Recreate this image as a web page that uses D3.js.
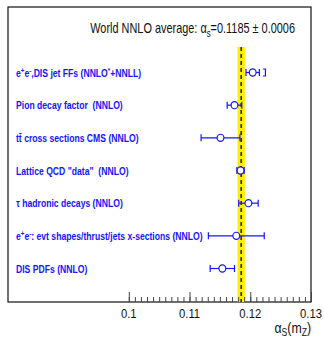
<!DOCTYPE html>
<html>
<head>
<meta charset="utf-8">
<script src="https://cdn.jsdelivr.net/npm/d3@7"></script>
<style>
  html, body { margin: 0; padding: 0; background: #fff; }
  svg { display: block; }
  text { font-family: "Liberation Sans", Arial, Helvetica, sans-serif; }
</style>
</head>
<body>
<svg id="chart" width="324" height="339"></svg>
<script>
// Determinations of the strong coupling, one row per method
const categories = [
  "ee_jetffs",
  "pion",
  "ttbar",
  "lattice",
  "tau",
  "ee_shapes",
  "dis"
];
const values = [0.1204, 0.1174, 0.1151, 0.1184, 0.1197, 0.1177, 0.1154];
const errors = [0.0011, 0.0012, 0.0032, 0.0006, 0.0016, 0.0046, 0.0020];
// extra one-sided theory uncertainty (upper edge), shown as a bracket
const theoryUpper = [0.1225, null, null, null, null, null, null];

const worldAverage = 0.1185;
const worldError = 0.0006;
const xTicks = [0.1, 0.11, 0.12, 0.13];
const xTickLabels = ["0.1", "0.11", "0.12", "0.13"];

const frame = { left: 8, top: 7, right: 311, bottom: 302 };
const blue = "#1414ff";

const svg = d3.select("#chart");

const x = d3.scaleLinear().domain([0.1, 0.13]).range([128.8, 311]);
const y = d3.scalePoint().domain(categories).range([72.5, 268.5]);

// frame
svg.append("rect")
  .attr("x", frame.left).attr("y", frame.top)
  .attr("width", frame.right - frame.left)
  .attr("height", frame.bottom - frame.top)
  .attr("fill", "none").attr("stroke", "#111").attr("stroke-width", 1.2);

// world average band and central line
const bandTop = 47;
svg.append("rect")
  .attr("x", x(worldAverage - worldError))
  .attr("y", bandTop)
  .attr("width", x(worldAverage + worldError) - x(worldAverage - worldError))
  .attr("height", frame.bottom - bandTop)
  .attr("fill", "#ffee00");
svg.append("line")
  .attr("x1", x(worldAverage)).attr("x2", x(worldAverage))
  .attr("y1", bandTop).attr("y2", frame.bottom)
  .attr("stroke", "#000").attr("stroke-width", 1.3)
  .attr("stroke-dasharray", "4,3");

// bottom axis: minor ticks every 0.001, major ticks at the labelled values
const minorTicks = d3.range(0, 31).map(i => 0.1 + i * 0.001);
const minorAxis = d3.axisBottom(x).tickValues(minorTicks).tickSize(-5).tickFormat("");
const gMinor = svg.append("g").attr("transform", `translate(0,${frame.bottom})`).call(minorAxis);
gMinor.select(".domain").remove();
gMinor.selectAll("line").attr("stroke", "#444").attr("stroke-width", 1);

const majorAxis = d3.axisBottom(x).tickValues(xTicks).tickSize(-10).tickFormat("");
const gMajor = svg.append("g").attr("transform", `translate(0,${frame.bottom})`).call(majorAxis);
gMajor.select(".domain").remove();
gMajor.selectAll("line").attr("stroke", "#444").attr("stroke-width", 1);

// tick labels, slightly condensed
const tickLabelG = svg.append("g");
xTicks.forEach((v, i) => {
  tickLabelG.append("text")
    .attr("transform", `translate(${x(v)},317.5) scale(0.88,1)`)
    .attr("text-anchor", "middle")
    .attr("font-size", 12.8)
    .attr("fill", "#111")
    .text(xTickLabels[i]);
});

// axis title  α_S(m_Z)
const axTitle = svg.append("text")
  .attr("transform", "translate(311,333) scale(0.82,1)")
  .attr("text-anchor", "end")
  .attr("font-size", 15)
  .attr("fill", "#111");
axTitle.append("tspan").text("\u03b1");
axTitle.append("tspan").attr("font-size", 10.5).attr("dy", 2.5).text("S");
axTitle.append("tspan").attr("dy", -2.5).text("(m");
axTitle.append("tspan").attr("font-size", 10.5).attr("dy", 2.5).text("Z");
axTitle.append("tspan").attr("dy", -2.5).text(")");

// header
const title = svg.append("text")
  .attr("transform", "translate(295,33) scale(0.78,1)")
  .attr("text-anchor", "end")
  .attr("font-size", 14)
  .attr("fill", "#111");
title.append("tspan").text("World NNLO average: \u03b1");
title.append("tspan").attr("font-size", 10).attr("dy", 3.5).text("s");
title.append("tspan").attr("dy", -3.5).text("=0.1185 \u00b1 0.0006");

// row labels (with superscripts)
const labelParts = {
  ee_jetffs: [["e"], ["+", "sup"], ["e"], ["-", "sup"], [",DIS jet FFs (NNLO"], ["*", "sup"], ["+NNLL)"]],
  pion: [["Pion decay factor\u00a0 (NNLO)"]],
  ttbar: [["tt\u0304 cross sections CMS (NNLO)"]],
  lattice: [["Lattice QCD \"data\"\u00a0 (NNLO)"]],
  tau: [["\u03c4 hadronic decays (NNLO)"]],
  ee_shapes: [["e"], ["+", "sup"], ["e"], ["-", "sup"], [": evt shapes/thrust/jets x-sections (NNLO)"]],
  dis: [["DIS PDFs (NNLO)"]]
};

categories.forEach(c => {
  const t = svg.append("text")
    .attr("transform", `translate(16,${y(c)}) scale(0.77,1)`)
    .attr("dy", "0.36em")
    .attr("font-size", 11.2)
    .attr("font-weight", "bold")
    .attr("fill", blue);
  let shifted = false;
  labelParts[c].forEach(([s, kind]) => {
    const sp = t.append("tspan").text(s);
    if (kind === "sup" && !shifted) { sp.attr("dy", -4).attr("font-size", 8); shifted = true; }
    else if (kind === "sup") { sp.attr("font-size", 8); }
    else if (shifted) { sp.attr("dy", 4); shifted = false; }
  });
});

// error bars and markers
const rows = categories.map((c, i) => ({ c, v: values[i], e: errors[i], th: theoryUpper[i] }));
const cap = 3.5;
const g = svg.append("g").attr("stroke", blue).attr("stroke-width", 1.2).attr("fill", "none");
rows.forEach(d => {
  const yy = y(d.c);
  g.append("line").attr("x1", x(d.v - d.e)).attr("x2", x(d.v + d.e)).attr("y1", yy).attr("y2", yy);
  [d.v - d.e, d.v + d.e].forEach(v => {
    g.append("line").attr("x1", x(v)).attr("x2", x(v)).attr("y1", yy - cap).attr("y2", yy + cap);
  });
  if (d.th != null) {
    const bx = x(d.th);
    g.append("path").attr("d", `M${bx - 2.5},${yy - cap}H${bx}V${yy + cap}H${bx - 2.5}`);
  }
  g.append("ellipse").attr("cx", x(d.v)).attr("cy", yy).attr("rx", 3.4).attr("ry", 3.6)
    .attr("fill", "#fff");
});
</script>
</body>
</html>
